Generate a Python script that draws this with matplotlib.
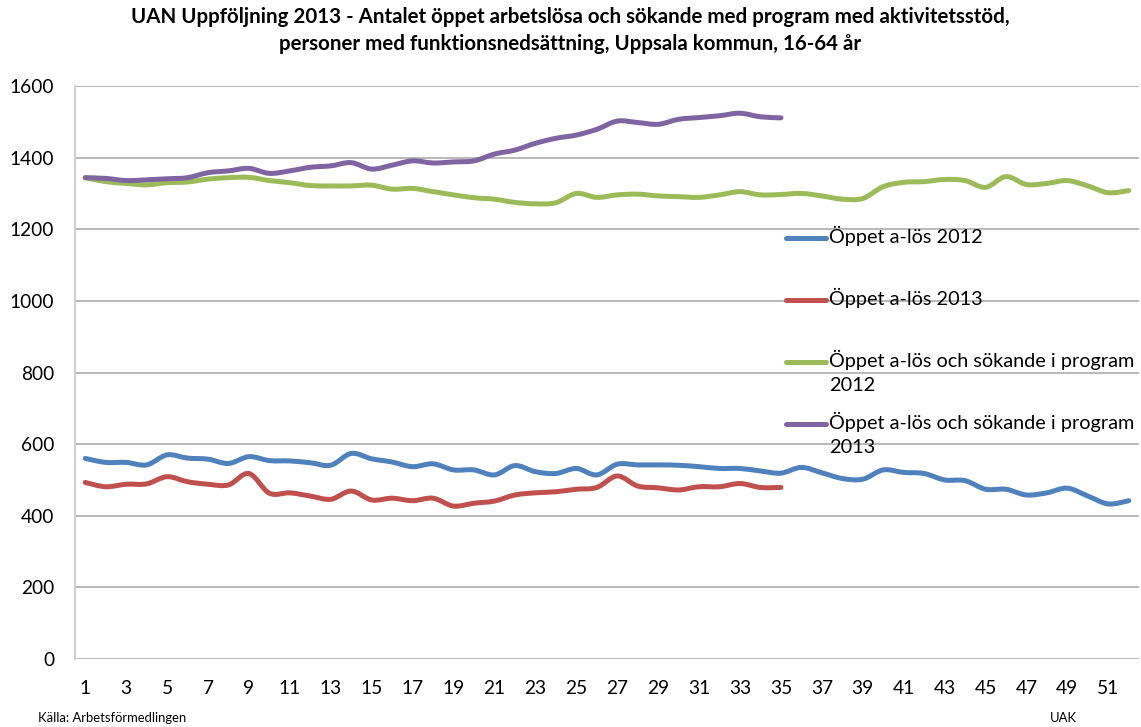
import matplotlib
matplotlib.use("Agg")
import matplotlib.pyplot as plt
from matplotlib.path import Path
from matplotlib.patches import PathPatch
from matplotlib.lines import Line2D

plt.rcParams["font.family"] = ["Lato", "DejaVu Sans"]

weeks = list(range(1, 53))
week_labels = [str(w) if w % 2 == 1 else "" for w in weeks]

open_2012 = [560, 549, 549, 542, 570, 561, 558, 546, 565, 554,
             553, 548, 541, 574, 559, 550, 537, 545, 528, 528,
             514, 540, 523, 518, 532, 514, 544, 542, 542, 541,
             537, 532, 532, 525, 519, 535, 520, 504, 502, 528,
             521, 518, 500, 498, 474, 474, 458, 464, 477, 455,
             433, 442]
open_2013 = [493, 481, 488, 489, 509, 495, 488, 486, 518, 463,
             464, 455, 446, 469, 444, 449, 442, 449, 427, 435,
             441, 458, 464, 467, 474, 479, 511, 483, 478, 472,
             481, 481, 490, 479, 479]
prog_2012 = [1344, 1333, 1328, 1324, 1330, 1332, 1340, 1344, 1345, 1336,
             1330, 1322, 1321, 1321, 1323, 1312, 1314, 1305, 1296, 1288,
             1284, 1275, 1271, 1274, 1300, 1289, 1296, 1298, 1293, 1291,
             1289, 1296, 1305, 1296, 1297, 1300, 1293, 1284, 1286, 1319,
             1331, 1333, 1339, 1336, 1317, 1347, 1325, 1328, 1336, 1321,
             1302, 1308]
prog_2013 = [1344, 1342, 1336, 1338, 1341, 1344, 1358, 1363, 1370, 1356,
             1363, 1373, 1377, 1386, 1368, 1379, 1391, 1385, 1388, 1391,
             1410, 1421, 1440, 1454, 1463, 1479, 1502, 1498, 1493, 1507,
             1512, 1517, 1524, 1514, 1511]

series = [
    ("Öppet a-lös 2012", open_2012, "#4F81BD"),
    ("Öppet a-lös 2013", open_2013, "#C0504D"),
    ("Öppet a-lös och sökande i program\n2012", prog_2012, "#9BBB59"),
    ("Öppet a-lös och sökande i program\n2013", prog_2013, "#8064A2"),
]


def smooth_path(xs, ys):
    # Catmull-Rom style bezier, like Excel's "smoothed line"
    pts = list(zip(xs, ys))
    verts = [pts[0]]
    codes = [Path.MOVETO]
    n = len(pts)
    for i in range(n - 1):
        p0 = pts[i - 1] if i > 0 else pts[i]
        p1 = pts[i]
        p2 = pts[i + 1]
        p3 = pts[i + 2] if i + 2 < n else pts[i + 1]
        c1 = (p1[0] + (p2[0] - p0[0]) / 6, p1[1] + (p2[1] - p0[1]) / 6)
        c2 = (p2[0] - (p3[0] - p1[0]) / 6, p2[1] - (p3[1] - p1[1]) / 6)
        verts += [c1, c2, p2]
        codes += [Path.CURVE4] * 3
    return Path(verts, codes)


fig = plt.figure(figsize=(11.41, 7.27), dpi=100)
ax = fig.add_axes([75 / 1141, 1 - 659 / 727, 1064 / 1141, 573 / 727])

for label, vals, color in series:
    xs = weeks[:len(vals)]
    ax.add_patch(PathPatch(smooth_path(xs, vals), fill=False, edgecolor=color,
                           lw=3.6, capstyle="round", joinstyle="round", zorder=3))

ax.set_xlim(0.5, 52.5)
ax.set_ylim(0, 1600)
ax.set_yticks(range(0, 1601, 200))
ax.set_xticks(weeks)
ax.set_xticklabels(week_labels)
ax.tick_params(axis="both", length=0, labelsize=13.8, colors="black")
ax.tick_params(axis="x", pad=15)
ax.tick_params(axis="y", pad=15)
ax.grid(axis="y", color="#A6A6A6", lw=1.1)
ax.set_axisbelow(True)
for side in ("top", "right", "bottom"):
    ax.spines[side].set_visible(False)
ax.spines["left"].set_color("#D0D0D0")
ax.spines["left"].set_linewidth(1.5)

# legend, drawn like Excel's right-hand legend inside the plot
leg_y = [238, 300, 362, 424]
for (label, vals, color), py in zip(series, leg_y):
    fy = 1 - py / 727
    fig.add_artist(Line2D([786 / 1141, 826 / 1141], [fy, fy], color=color,
                          lw=3.6, solid_capstyle="round"))
    fig.text(829 / 1141, 1 - (py - 12) / 727, label, fontsize=14.3, va="top",
             ha="left", linespacing=1.5)

fig.text(0.5, 1 - 17 / 727,
         "UAN Uppföljning 2013 - Antalet öppet arbetslösa och sökande med program med aktivitetsstöd,",
         ha="center", va="center", fontsize=14.8, fontweight="bold")
fig.text(0.5, 1 - 44 / 727,
         "personer med funktionsnedsättning, Uppsala kommun, 16-64 år",
         ha="center", va="center", fontsize=14.8, fontweight="bold")

fig.text(38 / 1141, 1 - 718 / 727, "Källa: Arbetsförmedlingen", fontsize=9.4,
         va="center", ha="left")
fig.text(1050 / 1141, 1 - 718 / 727, "UAK", fontsize=9.4, va="center", ha="left")

fig.savefig("out.png", dpi=100)
